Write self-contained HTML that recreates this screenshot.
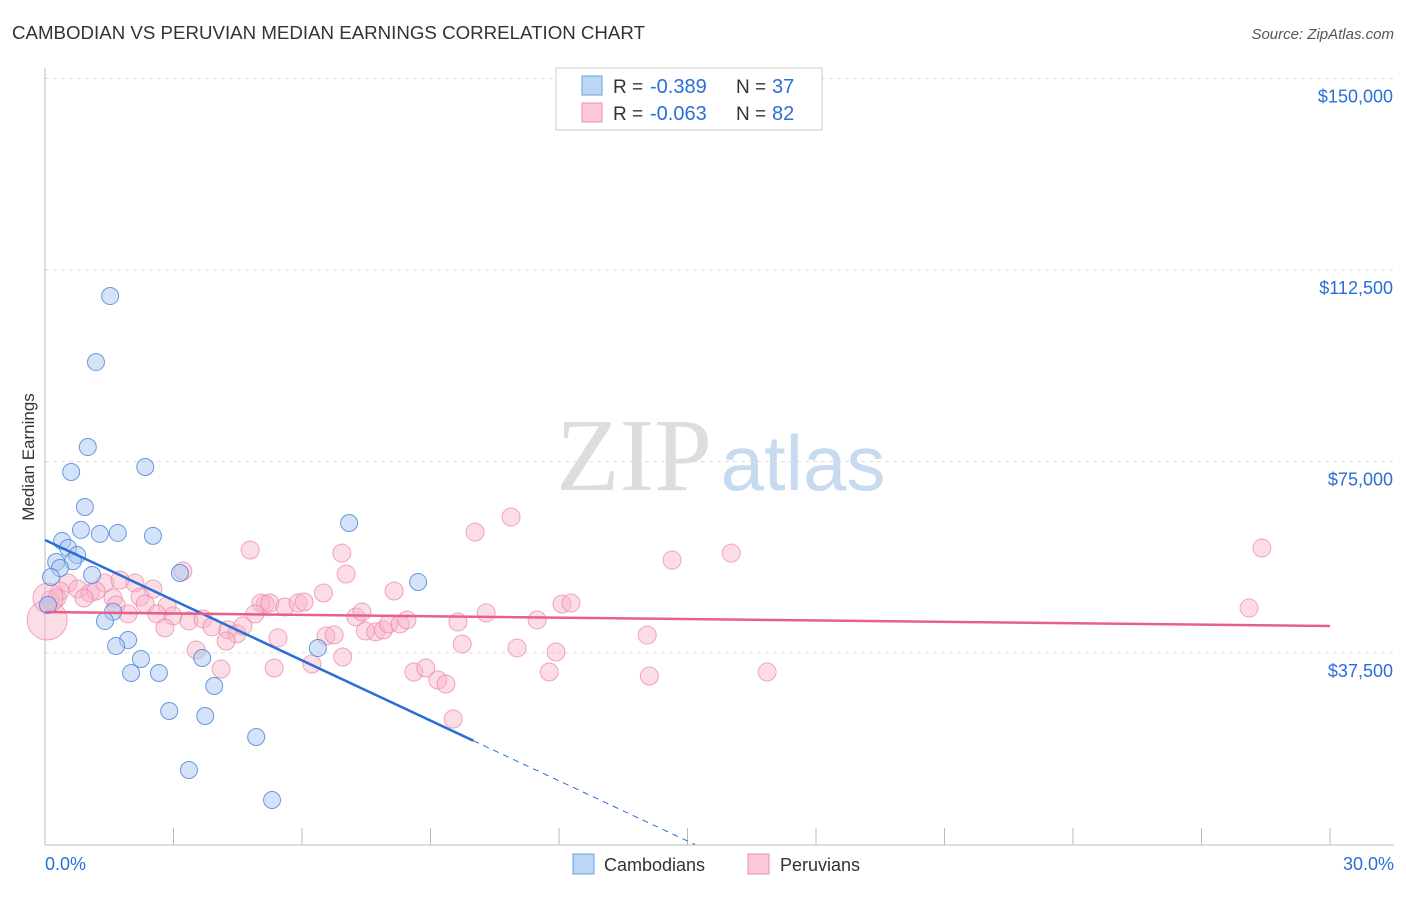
<!DOCTYPE html>
<html><head><meta charset="utf-8"><style>
body{margin:0;background:#fff;font-family:"Liberation Sans",sans-serif;}
</style></head><body>
<svg id="chart" width="1406" height="892" xmlns="http://www.w3.org/2000/svg" font-family="Liberation Sans, sans-serif">
<text x="12" y="39" font-size="18" fill="#333" textLength="633" lengthAdjust="spacingAndGlyphs">CAMBODIAN VS PERUVIAN MEDIAN EARNINGS CORRELATION CHART</text>
<text x="1394" y="39" font-size="15" fill="#555" font-style="italic" text-anchor="end">Source: ZipAtlas.com</text>
<text transform="translate(34,457) rotate(-90)" font-size="17" fill="#333" text-anchor="middle">Median Earnings</text>
<g>
<text x="634" y="490" font-size="104" font-family="Liberation Serif, serif" fill="#ddd" text-anchor="middle">ZIP</text>
<text x="803" y="490" font-size="78" fill="#c8daf0" text-anchor="middle">atlas</text>
</g>
<g id="grid"></g>
<g id="axes"></g>
<g id="marks"></g>
<g>
<rect x="556" y="68" width="266" height="62" fill="#fff" stroke="#ccc"/>
<rect x="582" y="76" width="20" height="19" fill="#bcd6f5" stroke="#6a9fe0"/>
<rect x="582" y="103" width="20" height="19" fill="#fbc8d8" stroke="#ec8fae"/>
<text x="613" y="93" font-size="19" fill="#333">R =</text>
<text x="650" y="93" font-size="20" fill="#2a6fd6">-0.389</text>
<text x="736" y="93" font-size="19" fill="#333">N =</text>
<text x="772" y="93" font-size="20" fill="#2a6fd6">37</text>
<text x="613" y="120" font-size="19" fill="#333">R =</text>
<text x="650" y="120" font-size="20" fill="#2a6fd6">-0.063</text>
<text x="736" y="120" font-size="19" fill="#333">N =</text>
<text x="772" y="120" font-size="20" fill="#2a6fd6">82</text>
</g>
<g>
<rect x="573" y="854" width="21" height="20" fill="#bcd6f5" stroke="#6a9fe0"/>
<text x="604" y="871" font-size="18" fill="#333">Cambodians</text>
<rect x="748" y="854" width="21" height="20" fill="#fbc8d8" stroke="#ec8fae"/>
<text x="780" y="871" font-size="18" fill="#333">Peruvians</text>
</g>
</svg>
<script>
const yTicks=[37500,75000,112500,150000];
const yTickLabels=["$37,500","$75,000","$112,500","$150,000"];
const xTickVals=[0,3,6,9,12,15,18,21,24,27,30];
const xEndLabels=["0.0%","30.0%"];
const cambX=[1.52,1.19,1.00,0.61,2.34,0.93,7.10,0.84,1.28,1.70,2.52,0.40,0.54,0.75,0.26,0.65,0.35,1.10,3.15,0.14,8.71,0.07,1.59,1.40,1.94,1.66,6.37,2.24,3.67,2.01,2.66,3.95,2.90,3.74,4.93,3.36,5.30];
const cambY=[107400,94470,77830,72940,73920,66090,62960,61600,60820,61010,60430,59420,58050,56680,55310,55500,54140,52770,53160,52380,51400,46900,45580,43760,40040,38860,38470,36320,36520,33580,33580,31040,26140,25160,21050,14590,8710];
const peruX=[4.79,6.93,10.04,10.88,7.03,3.22,14.64,16.02,28.41,28.11,14.06,14.11,16.86,0.54,1.40,1.75,2.10,2.52,0.35,0.77,1.05,1.19,1.59,2.22,0.12,0.28,2.34,2.85,1.66,0.91,1.94,2.61,2.99,3.36,3.69,2.80,3.90,4.27,4.48,4.62,5.14,5.04,5.25,5.60,5.91,6.05,4.90,5.44,6.50,8.15,7.26,7.40,6.56,6.75,7.48,7.72,7.90,8.02,8.29,8.45,9.64,10.30,11.49,12.07,12.28,3.53,4.23,4.11,5.35,6.23,6.95,8.61,8.89,9.17,9.36,9.74,11.02,11.93,11.77,9.53,0.05,0.07];
const peruY=[57660,57070,61180,64120,52970,53560,55700,57070,58050,46300,41010,32990,33770,51200,51200,51790,51200,50030,49640,50030,49250,49640,48270,48460,47870,48270,47090,46700,46900,48270,45150,45150,44760,43780,44170,42410,42610,42020,41240,42800,47090,47280,47280,46500,47280,47480,45150,40450,49250,49640,44560,45540,40840,41040,41820,41630,42020,43190,43190,43970,43580,45350,43970,47090,47280,38080,39840,34360,34560,35340,36720,33770,34560,32210,31430,39270,38490,37700,33770,24570,43970,48270];
const peruBig=[80,81];
const cambLine=[59620,-58250];
const peruLine=[45520,42780];
const cambSolidEnd=10;

const X0=45,X1=1330,YB=844.5,PXPER=191.5/37500;
const xs=v=>X0+(v/30)*(X1-X0);
const ys=v=>YB-v*PXPER;
const NS="http://www.w3.org/2000/svg";
function mk(tag,attrs,parent){const e=document.createElementNS(NS,tag);for(const k in attrs)e.setAttribute(k,attrs[k]);parent.appendChild(e);return e;}
const grid=document.getElementById('grid'),axes=document.getElementById('axes'),marks=document.getElementById('marks');
yTicks.forEach((t,i)=>{
  const l=mk('line',{x1:X0,x2:1394,y1:ys(t),y2:ys(t),stroke:'#ddd','stroke-dasharray':'4,4'},grid);
  
  
  const tx=mk('text',{x:1393,y:ys(t)+24,'font-size':18,fill:'#2a6fd6','text-anchor':'end'},axes);
  tx.textContent=yTickLabels[i];
  
  
});
const ax=mk('line',{x1:X0,x2:X0,y1:68,y2:845,stroke:'#bbb'},axes);


const bx=mk('line',{x1:X0,x2:1394,y1:845,y2:845,stroke:'#bbb'},axes);


xTickVals.forEach(v=>{
  const t=mk('line',{x1:xs(v),x2:xs(v),y1:828,y2:845,stroke:'#bbb'},axes);
  
  
});
[[0,'start',45],[30,'end',1394]].forEach((d,i)=>{
  const t=mk('text',{x:d[2],y:870,'font-size':18,fill:'#2a6fd6','text-anchor':d[1]},axes);
  t.textContent=xEndLabels[i];
  
  
});
peruX.forEach((x,i)=>{
  const r=peruBig.indexOf(i)===0?20:(peruBig.indexOf(i)===1?15:9);
  const c=mk('circle',{cx:xs(x),cy:ys(peruY[i]),r:r,fill:'rgba(248,180,200,0.45)',stroke:'rgba(235,130,165,0.7)','stroke-width':1},marks);
  
  
});
cambX.forEach((x,i)=>{
  const c=mk('circle',{cx:xs(x),cy:ys(cambY[i]),r:8.5,fill:'rgba(170,200,240,0.5)',stroke:'rgba(70,130,220,0.8)','stroke-width':1},marks);
  
  
});
const cy=x=>cambLine[0]+(cambLine[1]-cambLine[0])*x/30;
const zeroX=30*cambLine[0]/(cambLine[0]-cambLine[1]);
const l1=mk('line',{x1:xs(0),y1:ys(cy(0)),x2:xs(cambSolidEnd),y2:ys(cy(cambSolidEnd)),stroke:'#2a6fd6','stroke-width':2.5},marks);


const l2=mk('line',{x1:xs(cambSolidEnd),y1:ys(cy(cambSolidEnd)),x2:xs(zeroX),y2:ys(0),stroke:'#2a6fd6','stroke-width':1,'stroke-dasharray':'6,5'},marks);


const l3=mk('line',{x1:xs(0),y1:ys(peruLine[0]),x2:xs(30),y2:ys(peruLine[1]),stroke:'#e8608a','stroke-width':2.5},marks);


</script>
</body></html>
